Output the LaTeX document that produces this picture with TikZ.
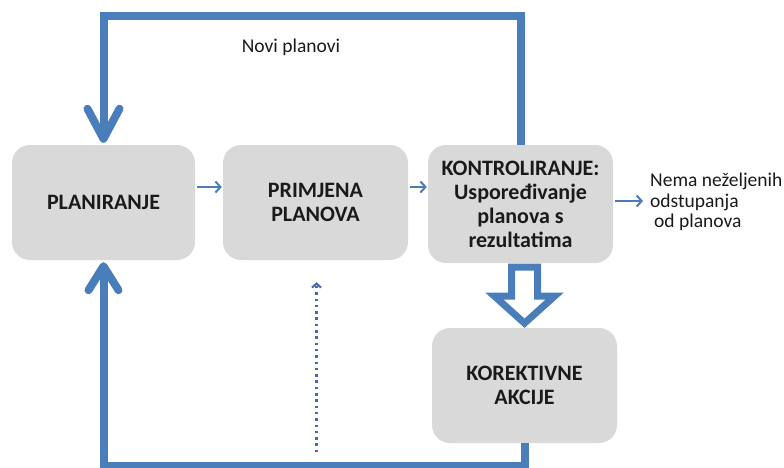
\documentclass[tikz,border=0pt]{standalone}
\usepackage{fontspec}
\setmainfont{Carlito}
\usetikzlibrary{arrows.meta,calc}
\definecolor{flow}{HTML}{4A7EBB}
\definecolor{boxgray}{HTML}{D9D9D9}
\definecolor{ink}{HTML}{1A1A1A}
\definecolor{dotc}{HTML}{4A68A8}
\begin{document}
\begin{tikzpicture}[x=1pt,y=-1pt,
  stage/.style={fill=boxgray, rounded corners=18pt, inner sep=0pt, align=center,
    text=ink, font=\bfseries\fontsize{22}{24}\selectfont},
  loopline/.style={draw=flow, line width=8pt},
  barb/.style={draw=flow, line width=8pt, line cap=round, line join=round},
  thinarrow/.style={draw=flow, line width=2pt, -{Straight Barb[length=5pt,width=11pt]}},
  dotarrow/.style={draw=dotc, line width=2.5pt, dash pattern=on 2.5pt off 3.8pt,
    -{Straight Barb[length=4pt,width=9pt,line width=2pt]}},
  hollow/.style={draw=flow, fill=white, line width=7pt, line join=miter},
  plain/.style={text=ink, font=\fontsize{19.5}{20.5}\selectfont, inner sep=0pt}
]
\path[use as bounding box] (0,0) rectangle (784,468);

% boxes
\node[stage, minimum width=183pt, minimum height=115pt] (pl) at (103.5,202.5) {PLANIRANJE};
\node[stage, minimum width=185pt, minimum height=115pt] (pr) at (315.5,202.5) {PRIMJENA\\PLANOVA};
\node[stage, minimum width=185pt, minimum height=118pt] (ko) at (520.5,204) {KONTROLIRANJE:\\Uspoređivanje\\planova s\\rezultatima};
\node[stage, minimum width=185pt, minimum height=115pt] (ka) at (524.5,385.5) {KOREKTIVNE\\AKCIJE};

% texts
\node[plain, anchor=base] (novi) at (291,53) {Novi planovi};
\node[plain, anchor=west, align=left] (nema) at (650,202) {Nema neželjenih\\odstupanja\\\hspace*{4pt}od planova};

% helper coordinates
\coordinate (top) at (0,16);
\coordinate (bot) at (0,466);
\coordinate (rowA) at (0,187);
\coordinate (rowB) at (0,201);
\coordinate (dotstart) at ($(pr.south)+(1pt,-192pt)$);

% top loop: new plans
\draw[loopline] (ko.north) -- (ko.north |- top) -- (pl.north |- top) -- ([yshift=6pt]pl.north);
\draw[barb] ($(pl.north)+(-16pt,36pt)$) -- ([yshift=6pt]pl.north) -- ($(pl.north)+(16pt,36pt)$);

% bottom loop
\draw[loopline] (ka.south) -- (ka.south |- bot) -- (pl.south |- bot) -- ([yshift=-6pt]pl.south);
\draw[barb] ($(pl.south)+(-15pt,-30pt)$) -- ([yshift=-6pt]pl.south) -- ($(pl.south)+(15pt,-30pt)$);

% thin arrows
\draw[thinarrow, shorten <=2pt, shorten >=1pt] (pl.east |- rowA) -- (pr.west |- rowA);
\draw[thinarrow, shorten <=2pt, shorten >=1pt] (pr.east |- rowA) -- (ko.west |- rowA);
\draw[thinarrow, shorten <=2pt, shorten >=7pt] (ko.east |- rowB) -- (nema.west |- rowB);

% dotted arrow
\draw[dotarrow] (dotstart) -- ([xshift=1pt,yshift=-22pt]pr.south);

% hollow arrow
\begin{scope}[shift={(ko.south)}]
\draw[hollow] (-9,4) -- (17,4) -- (17,33) -- (34,33) -- (4,60) -- (-26,33) -- (-9,33) -- cycle;
\end{scope}
\end{tikzpicture}
\end{document}
